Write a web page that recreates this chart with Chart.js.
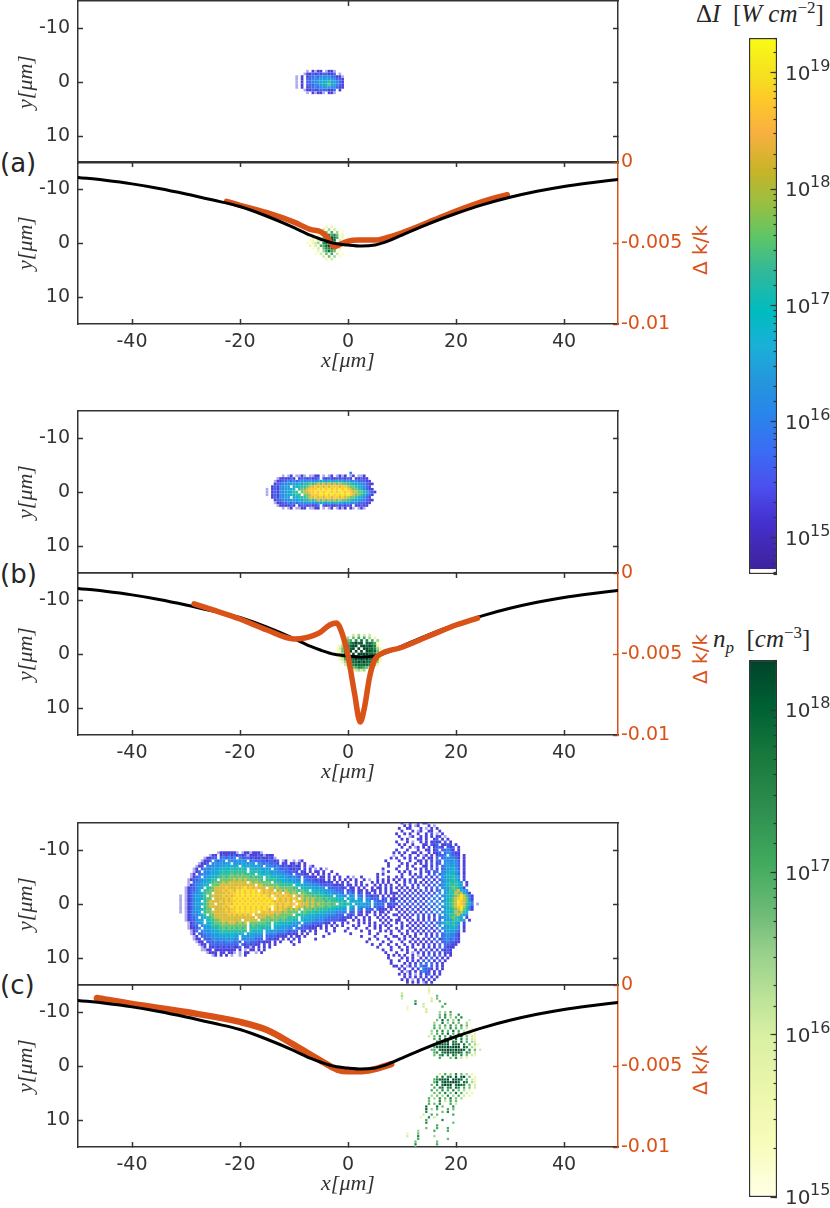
<!DOCTYPE html>
<html>
<head>
<meta charset="utf-8">
<script src="https://cdn.jsdelivr.net/npm/chart.js@4/dist/chart.umd.min.js"></script>
<style>
  body { margin: 0; background: #fff; }
  #page { position: relative; width: 830px; height: 1208px; overflow: hidden; }
  canvas { position: absolute; }
  .txt { position: absolute; white-space: nowrap; color: #262626; }
  .letter { left: 0; font: 26px "DejaVu Sans"; line-height: 30px; }
  .dk { color: #d95319; font: 20px "DejaVu Sans"; transform: translate(-50%, -50%) rotate(-90deg); left: 700px; }
  .cbt { font: 25px "Liberation Serif"; }
  .cbt i { font-style: italic; }
  .cbt sup { font-size: 17px; line-height: 0; }
  .cbt sub { font-size: 17px; line-height: 0; }
</style>
</head>
<body>
<div id="page">
  <div class="txt letter" style="top:148px">(a)</div>
  <div class="txt letter" style="top:559px">(b)</div>
  <div class="txt letter" style="top:970px">(c)</div>
  <div class="txt dk" style="top:250px">Δ k/k</div>
  <div class="txt dk" style="top:659px">Δ k/k</div>
  <div class="txt dk" style="top:1070px">Δ k/k</div>
  <div class="txt cbt" style="left:696px;top:0px">Δ<i>I</i>&nbsp; [<i>W cm</i><sup>−2</sup>]</div>
  <div class="txt cbt" style="left:713px;top:625px"><i>n<sub>p</sub></i>&nbsp; [<i>cm</i><sup>−3</sup>]</div>
</div>
<script>
const xTicks = [-40, -20, 0, 20, 40];
const yTicks = [-10, 0, 10];
const kTicks = [0, -0.005, -0.01];

// black curve, same in the three panels
const curveX = [-50, -45, -40, -35, -30, -25, -20, -15, -10, -7, -5, -2.5, 0, 2.5, 5, 7.5, 10, 15, 20, 25, 30, 35, 40, 45, 50];
const curveK = [-0.00095, -0.00113, -0.00135, -0.00163, -0.00197, -0.00235, -0.00275, -0.00335, -0.00405, -0.00452, -0.00477, -0.00502, -0.00513, -0.00519, -0.00512, -0.00487, -0.00451, -0.0038, -0.00318, -0.00263, -0.00218, -0.00181, -0.00151, -0.00128, -0.00108];

const orangeAX = [-22.5, -20, -15, -10, -7, -5, -4, -2.5, -1.5, 0, 2, 5, 7.5, 10, 15, 20, 25, 28, 29.5];
const orangeAK = [-0.00243, -0.00268, -0.00313, -0.00371, -0.00416, -0.00431, -0.00458, -0.00524, -0.00509, -0.00489, -0.00482, -0.00482, -0.00464, -0.00437, -0.00371, -0.00303, -0.00243, -0.00214, -0.00202];

const orangeBX = [-28.5, -25, -20, -15, -10, -8, -5.3, -3.4, -2.1, -1.4, -0.1, 1.2, 2.26, 3.07, 4, 4.93, 6.4, 9.6, 15, 20, 24];
const orangeBK = [-0.00191, -0.00228, -0.00284, -0.00352, -0.00407, -0.00401, -0.0037, -0.00321, -0.00309, -0.00345, -0.00494, -0.00741, -0.0092, -0.00827, -0.00642, -0.00537, -0.00494, -0.00463, -0.00389, -0.00321, -0.00278];

const orangeCX = [-46.5, -40, -30, -20, -15, -10, -5, -2, 0, 3, 5, 8];
const orangeCK = [-0.0008, -0.00117, -0.00167, -0.00228, -0.00278, -0.0037, -0.00468, -0.00522, -0.00533, -0.00531, -0.00519, -0.00488];

// levels, one char per 0.5um cell, '.' is an empty cell, 'a' the top level
const heatAX0 = -9.5, heatAY0 = -2;
const heatARows = [
  "....0.1011.0110...",
  "...011212122112.0.",
  "0.1.12232333322110",
  "0.1.22333444443221",
  "0.1.22334455644321",
  "0.1.22233445744321",
  "0.1.12232334433211",
  "...011212222112.1.",
  "....0.10110.110..."
];

const heatBX0 = -15, heatBY0 = -3.5;
const heatBRows = [
  "...............................3.........",
  "......0.01.0010.0011.0.01.0101.01.001....",
  "....0111121.12212112.21211212121.11211...",
  "...011223232333343344535445443433322211..",
  "...1223334445465767878787878776654433211.",
  "..1213344.45566788989898999899877654321..",
  "0.121334455.6778999a9a9a9a9a9a9877653211",
  "0.1213344566.78899a9a9aa9a9aa9a9887765321",
  "0.12133445566.778999a9a9a9a9a9a987765321.",
  "..1213344.45566788989899899898877654321..",
  "...1223334445465767878787878776654433211.",
  "...011223232333343344535445443433322211..",
  "....0111121.12212112.21211212121.11211...",
  "......0.01.0011.0011.0.01.0101.10.010...."
];

const heatCX0 = -31, heatCY0 = -15;
const heatCRows = [
  "E E E E ..1.01..1.11........",
  "E E E E ...1.1.01...1.0.....",
  "E E E E .1..11...1.0.1.1....",
  "E E E E ..1...1.01..11..1...",
  "E E E E 1..1.1..1..1.2.0.1..",
  "E E E E .1...01..1.1.1.11.0.",
  "E E E E ..1.1...11.1..12.1.1",
  "E E E E 1...1.0..1.1.1211.2. 1",
  "E E E E .1.1..1...11.212.112 1.1",
  "E E E E ..1..1.01.1.1.1221.2 12.1",
  "E E E E 1...1...1..11.12.223 21.1",
  "..............011111 10.01101110......... E ...................1 .1.1..11.1..1.112.23 3211",
  "...........011.12121 212120111210111..... E ...................0 ..1..1..1.01.1.1223. 3221.1",
  ".........01122.23232 3.32221211211210.... E ..................1. 1..1.1.1..1.11.2.233 3321.1",
  "........0112.3233.33 34343.23222212212.01 ..0.01.............. ................1... .1...1..11.1.1.22.33 3432.1",
  ".......0112.3434344. 34344343.33232221.11 .1101.1............. .................1.. ..1.1..1.1.1.2.12.34 3432.1",
  "......011.3334344545 45.54544443.33323212 11211.1.01.......... .................1.. .1..1.1...11.1.2.234 4432.1",
  ".....01.233344455556 56565.55454444.33222 21121.1.1.0.1.0..... ...............1.... 1...1..1.1.1.2.1.234 4542.1",
  ".....012.33444556566 66666.65655454443332 2221.11.1.11.1..1... ...............0.1.. .1.1.1...1.21.22.334 5543.1",
  "....01.2333445566667 67676666.65555444433 32.22211.1.1.1.1..1. .............1.1.... ..1..1.1.1..1.2.2345 5532.1",
  "....0123.34455667677 77777767666.66555444 33332.22111.11.1.1.1 ..1.0..1.....1...1.. 1.1...1.21.1.1.2.345 5654.1",
  "...01223344566.77777 87878777776.66665554 44433.32221211.1.1.1 .1.1.1..1.0..1.1.1.1 .1.1.1.1..1.2.1.2344 5653.1",
  "...0.233445667778788 88888.87877777.66655 55444.33322211211.1. 1.1..1.1...1.1.1.1.. 1..1.2.1.1.1.2.2.345 65654.1",
  "...01233455.77788888 88888888.88777777666 66.55544433322222111 1.11.1.1.1..1.1.1.1. .1.1..1.1.2.1.2.2345 66654.1",
  "..0122344.6678888988 8989a8989888.8878777 7766.555544443.22222 12.11.1.1..1.11.1.1. 1.1.1.1.2..1.2.2.344 676541",
  "..012234.66778889899 8a9a9a9a9.98988.7878 77776766.55544433322 2.121.11.1.11.1.1.1. .1.2.1.1.1.2.1.23.44 6678543",
  "..0123345677.8888989 9a9a9a9a9a98989898.8 8787.776665655444333 2.232.12.11.1.1.1.11 1.1.1.2.1.2.1.2.3.35 66878531",
  "0.01234456.788889898 9a9a9a9a9a9a98.98989 88.87877767666555.44 43.34.32.22121.1.1.1 .2.1.1.2.1.2.2.3.345 5678a8631",
  "0.0123445677.8888989 a9a9a9a9a9a9a9a.9898 9898.878787776766655 5.454.43.33222.12.11 1.1.2.1.2.1.2.3.2.45 6789a8731",
  "0.012344.67888898989 9a9a9a9a9a9a9a989898 98.98878787777676665 65.54544.43.32222.21 .2.1.2.1.2.2.3.3.345 678a98742",
  "0.01234456788.888998 a9a9a9a9a9a9a9a98989 989.98887878777767.6 6565.545434.3232.122 1.2.1.2.2.1.3.2.3.55 678a98653.0",
  "0.012344.6788888989a 9a9a9a9a9a9a9a.98989 88.98878787777676665 55.54.43433.2222.111 .1.2.1.2.1.2.2.3.345 6789a8631",
  "0.0123445677.8888989 9a9a9a9a9a9a98.98988 78787.77767666655544 44.43.32.222.2111.1. 1.1.1.2.1.2.1.3.2.45 5678a7531",
  "0.012334.67788888989 9a9a9a9a9.9898988878 7777.676665655544433 33.22.21.11.1.11.1.. .1.1.2.1.1.2.2.3.345 5687865",
  "..01233456.778888898 9898989.888888878777 77.66665555444433322 2.212.11.1..1.1.1..1 1.1.1.1.2.1.2.1.3.35 6678643",
  "..01223.456678888888 88888888.88877877777 6666.555444433322222 1211.1..1.1..1.1.1.. .1.1.1..2.1.1.2.2344 67654.1",
  "..0122344.5667788888 888.88888.77777776766 655.5444433332222211 1..1.1.1.1...1.1.1.1 1..1.1.1.1.2.1.2.344 66654.1",
  "...012334.5567778788 87878.77777766.66555 54444.3332222211.1. .1.1...1.1.1.1..1.1. .1.1..1.1.1.2.1.2345 65643.1",
  "...0122.344566677777 77777.67666666.55544 4433.32221211.1.1.1. 1...1.1...1.1.1.1.1. ..1.1.1.1.1.2.2.3.44 5653.1",
  "...01123.34455667676 76767.66665655.54444 33.32222111.1.1..1.. ..1..1...1..1.1..1.. 1.1..1.1.2.1.1.2.344 5543.1",
  "....012.333445566666 66666.65555.44443333 2222.11.1.1...1..1.. .1.....1..1...1.1.1. .1..1.1.1.1.2.1.2.34 4432.1",
  "....01.2233344455555 5555.454444.33332222 1211.1.1..1....1.... ...1......1..1....1. ..1.1..1.1.1.1.2.234 3321",
  ".....01.223334444545 44.44344333.22221211 .1.11.1......1...... .......1....1...1..1 1..1.1.1...2.1.2.233 3321",
  ".....011.22233333434 33.33333222.21211.1. 1.1.1.....1......... ..........1..1...1.. .1.1..1.1.1.1.2.1233 2321",
  "......011.2223232333 232.2322212111.1.1.. .1..1............... .........1.....1..1. ..1..1.1.1.1.1.2.223 2211",
  ".......011.222222222 22.2121211.1.1.1.... ..1................. ...........1..1..1.. 1..1..1.1.1.2.1.2.22 211",
  "........01.112121212 112.1101.1.1.1...... E .............1....1. .1..1.1...1.1.1.2.21 11",
  "........0011.1111111 1.1.0.11.1.1........ E ...............1..1. ..1.1..1.1.2.1.1.212 1",
  "..........0111.11.11 0.0.11..0.1......... E ................1... 1...1.0.1.1.1.2.1.12 1",
  "............01.1.1.0 ..0.1............... E .................1.1 .1.1..1.0.1.2.1.2.1. 1",
  "E E E .................1.. ..1.1.1..1.1.2.1.1.1",
  "E E E ..................1. .1..1.1.1.2.2.1.2.1.",
  "E E E ..................1. ...1.1.1.2.2.2.1.1..",
  "E E E ...................1 1.1.01.2.322.2.1.1..",
  "E E E E .1.1..1.1.3221.1.1..",
  "E E E E ..1.01.1.2321.1.1...",
  "E E E E .1.1.1.0.1.12.1.1...",
  "E E E E ...1.1.1.1.1.1.1....",
  "E E E E ..1.1.0.1.1.1.1.....",
  "E E E E ....1.1.1.01.1......"
];

const plasmaAX0 = -7.5, plasmaAY0 = -3;
const plasmaARows = [
  ".......2.2...",
  "....2.3.4.3.1",
  "...1.2.5.6.4.1",
  "..1.23.57675.2",
  "..2.3.668986.2",
  ".12.34.7898.31",
  "1.234.78897.21",
  ".2.3.668987.21",
  "..1.3.57786.2",
  "....2.46865.1",
  "...1.3.5.6.3.1",
  "......3.5.4.1",
  ".......2.3..."
];

const plasmaBX0 = -2, plasmaBY0 = -3.5;
const plasmaBRows = [
  "......3.4.3.3....",
  "....4.5.6.6.4.2..",
  "..2456.7.8.7.6.41",
  "..35678989.88761.",
  ".2468899.9989872.",
  "1358889.9.9988742",
  "125889.9.9.998851",
  "13588.9.999988742",
  ".24688999.9897611",
  ".2367889898988752",
  "..245788989887641",
  "...3567888887642.",
  "....3456776543...",
  "......23434.2...."
];

const plasmaCX0 = 9.5, plasmaCY0 = -14.5;
const plasmaCRows = [
  "...........2.................",
  "...........3.................",
  ".3.........2.................",
  ".4............5..............",
  ".3..........3.5..............",
  "......6.....3..5.............",
  "......7..3.......6...........",
  "...2.....3......6............",
  "...2......3..................",
  "..........3....4.4.6.........",
  "...............5.7.5..7......",
  "...............6.7.4.6.7.....",
  "..............5.8.6.4.7...3..",
  ".............4..8.4.6.5..4...",
  ".............6.5.6.7.5.7.5...",
  ".............6.5.4.7.6.5.3.2.",
  "............4.6.7.5.8.6.3.2..",
  "............4.6.7.8.6.7.5.3.2",
  "...........3.5.7.6.8.7.8.5.32",
  ".............6.7.8.7.8.7.5.32",
  "..............78.89.87.8.6.43",
  ".............678989.989.8.6.42",
  "...........4.6889898999.87.42",
  "............56.8989989898.7.5.3",
  ".............67.88989898.76.3",
  ".............5.68.7.86.7.5.32",
  "...............6...5.7.3.2...",
  "",
  "",
  "",
  "",
  "",
  "...............3.6.4.7.5.4.2.",
  "..............6.8.78.9.89.5.2",
  ".............678989.9898.6.32",
  ".............68.8989998.87.42",
  "............5.7.8989.8987.5.3",
  ".............6.78.78.87.6.5.3",
  "............6.5.7.6.7.5.4.2..",
  ".............5.6.7.5.8.6.3.2..",
  "............4.5.4.7.4.6.3.2..",
  "...........6.4.7.5.8.5.4.....",
  "...........5...7.3.6.5.......",
  "...........6.5.7...6.3.......",
  "..........8...8.5...7........",
  "..........8.4.6...6.5........",
  "..........7.....5.7..........",
  ".........3..6.5.....6........",
  "........2..7.3...............",
  "..........6.....7............",
  "..........7.........5........",
  "..............6..............",
  "..........5...6...6..........",
  ".......4.....6....6..........",
  "...2...5.....................",
  "...3...7.....4...............",
  ".......6..........5..........",
  "......5.......5..............",
  "......7.......6..............",
  "......6......................"
];

// colours of the levels above
const heatColors = ["#aeaaec", "#4b3fdc", "#3f62ea", "#2a88e8", "#1ca0dc", "#14b4c8", "#30bf9c", "#6cc46c", "#d8bc38", "#fcc832", "#f8e820"];
const plasmaColors = ["#ffffff", "#fdfdc8", "#eef7ac", "#cfeb9c", "#9fd58c", "#6cbb76", "#41ab5d", "#238443", "#0a6a38", "#00482a"];

// colorbars: position along the bar from the top and colour
const heatBarPos = [0, 0.07, 0.115, 0.175, 0.247, 0.313, 0.372, 0.437, 0.51, 0.575, 0.64, 0.706, 0.771, 0.837, 0.902, 0.99, 0.991, 1];
const heatBarCol = ["#f9fb15", "#f5e020", "#fdc928", "#f9b040", "#c8b428", "#95c043", "#5dc668", "#30b89a", "#00bcc0", "#1ab0d8", "#2496dc", "#2a84ec", "#3b6cf4", "#4a50ee", "#4530d0", "#3e229c", "#ffffff", "#ffffff"];
const plasmaBarPos = [0, 0.092, 0.185, 0.28, 0.38, 0.475, 0.54, 0.635, 0.7, 0.83, 0.895, 1];
const plasmaBarCol = ["#00432a", "#006234", "#1a7a3e", "#2f8f50", "#41ab5d", "#6fbb78", "#95cf8a", "#bee49a", "#d9f0a3", "#f0f8b0", "#f7fcb9", "#ffffe5"];

const DARK = "#333333";
const ORANGE = "#d95319";
const TICK_FONT = { family: "DejaVu Sans", size: 19 };

const zip = (xs, ys) => xs.map((x, i) => ({ x, y: ys[i] }));

// Turns the level rows into cells for a scatter dataset
const cellsFrom = (rows, x0, y0, colors, radius) => {
  const pts = [];
  const cols = [];
  rows.forEach((row, r) => {
    const line = row.replace(/E/g, "....................").replace(/ /g, "");
    [...line].forEach((c, i) => {
      if (c === ".") return;
      pts.push({ x: x0 + i * 0.5, y: y0 + r * 0.5 });
      cols.push(colors[c === "a" ? 10 : Number(c)]);
    });
  });
  return {
    data: pts,
    pointStyle: "rect",
    pointRadius: radius,
    pointHoverRadius: radius,
    pointBorderWidth: 0,
    pointBackgroundColor: cols,
    backgroundColor: cols,
    showLine: false,
    xAxisID: "x",
    yAxisID: "y",
  };
};

const lineSet = (xs, ks, color, width) => ({
  data: zip(xs, ks),
  showLine: true,
  borderColor: color,
  borderWidth: width,
  borderCapStyle: "round",
  pointRadius: 0,
  cubicInterpolationMode: "monotone",
  xAxisID: "x",
  yAxisID: "yRight",
});

const fixedTicks = (values) => (scale) => {
  scale.ticks = values.map((value) => ({ value }));
};

// Keeps the frame where it belongs: no extra room for labels that stick out
const fixSize = (width, height) => (s) => {
  if (width !== null) s.width = width;
  if (height !== null) s.height = height;
  s.paddingTop = s.paddingBottom = s.paddingLeft = s.paddingRight = 0;
};

const axisStyle = (color, tickLen) => ({
  border: { color, width: 1.5 },
  grid: { drawOnChartArea: false, drawTicks: true, tickLength: tickLen, tickColor: color, tickWidth: 1.5 },
});

// One panel: top is the top edge of the plot frame, lower means it has the k/k axis and x labels
const addPanel = (top, lower, datasets) => {
  const canvas = document.createElement("canvas");
  const padTop = 14;
  const below = lower ? 54 : 14;
  canvas.style.left = "0px";
  canvas.style.top = top - padTop + "px";
  canvas.style.width = "700px";
  canvas.style.height = 162 + padTop + below + "px";
  canvas.width = 700;
  canvas.height = 162 + padTop + below;
  document.getElementById("page").appendChild(canvas);

  const rightColor = lower ? ORANGE : DARK;
  return new Chart(canvas.getContext("2d"), {
    type: "scatter",
    data: { datasets },
    options: {
      responsive: false,
      animation: false,
      layout: { padding: { top: padTop, bottom: lower ? 0 : below } },
      plugins: { legend: { display: false }, tooltip: { enabled: false } },
      scales: {
        x: {
          type: "linear",
          position: "bottom",
          min: -50,
          max: 50,
          ...axisStyle(DARK, -5),
          afterBuildTicks: fixedTicks(lower ? xTicks : [0]),
          afterFit: fixSize(null, lower ? below : 0),
          ticks: { display: lower, color: DARK, font: TICK_FONT, padding: 12, maxRotation: 0, autoSkip: false },
          title: {
            display: lower,
            text: "x[μm]",
            color: DARK,
            font: { family: "Liberation Serif", size: 22, style: "italic" },
            padding: { top: 27 },
          },
        },
        xTop: {
          type: "linear",
          position: "top",
          min: -50,
          max: 50,
          ...axisStyle(DARK, -5),
          afterBuildTicks: fixedTicks(lower ? xTicks : [0]),
          afterFit: fixSize(null, 0),
          ticks: { display: false },
        },
        y: {
          type: "linear",
          position: "left",
          reverse: true,
          min: -15,
          max: 15,
          ...axisStyle(DARK, -5),
          afterBuildTicks: fixedTicks(yTicks),
          afterFit: fixSize(78, null),
          ticks: { color: DARK, font: TICK_FONT, padding: 13 },
          title: {
            display: true,
            text: "y[μm]",
            color: DARK,
            font: { family: "Liberation Serif", size: 22, style: "italic" },
            padding: { top: 13 },
          },
        },
        yRight: {
          type: "linear",
          position: "right",
          reverse: !lower,
          min: lower ? -0.01 : -15,
          max: lower ? 0 : 15,
          ...axisStyle(rightColor, -5),
          afterBuildTicks: fixedTicks(lower ? kTicks : yTicks),
          afterFit: fixSize(82, null),
          ticks: {
            display: lower,
            color: ORANGE,
            font: TICK_FONT,
            padding: 8,
            callback: (v) => String(v),
          },
        },
      },
    },
  });
};

const barGradient = (pos, cols) => (ctx) => {
  const area = ctx.chart.chartArea;
  if (!area) return cols[0];
  const g = ctx.chart.ctx.createLinearGradient(0, area.top, 0, area.bottom);
  pos.forEach((p, i) => g.addColorStop(p, cols[i]));
  return g;
};

// Colorbar labels are 10 with a raised exponent, canvas ticks can't do that
const powerLabels = {
  id: "powerLabels",
  afterDraw(chart) {
    const { ctx, scales } = chart;
    const s = scales.yMajor;
    ctx.save();
    ctx.fillStyle = DARK;
    ctx.textBaseline = "middle";
    s.ticks.forEach((t) => {
      const y = s.getPixelForValue(t.value);
      const left = chart.chartArea.right + 8;
      ctx.font = '20px "DejaVu Sans"';
      ctx.fillText("10", left, y + 2);
      ctx.font = '16px "DejaVu Sans"';
      ctx.fillText(String(Math.round(Math.log10(t.value))), left + 25, y - 6);
    });
    ctx.restore();
  },
};

const addColorbar = (top, height, minV, maxV, majors, pos, cols) => {
  const canvas = document.createElement("canvas");
  const padV = 14;
  canvas.style.left = "735px";
  canvas.style.top = top - padV + "px";
  canvas.style.width = "95px";
  canvas.style.height = height + 2 * padV + "px";
  canvas.width = 95;
  canvas.height = height + 2 * padV;
  document.getElementById("page").appendChild(canvas);

  new Chart(canvas.getContext("2d"), {
    type: "bar",
    data: {
      labels: [""],
      datasets: [{
        data: [[minV, maxV]],
        backgroundColor: barGradient(pos, cols),
        borderColor: DARK,
        borderWidth: 1.5,
        borderSkipped: false,
        barPercentage: 1,
        categoryPercentage: 1,
        yAxisID: "yMajor",
      }],
    },
    plugins: [powerLabels],
    options: {
      responsive: false,
      animation: false,
      layout: { padding: { left: 14, top: padV, bottom: padV } },
      plugins: { legend: { display: false }, tooltip: { enabled: false } },
      scales: {
        x: { display: false },
        yMinor: {
          type: "logarithmic",
          position: "right",
          weight: 0,
          min: minV,
          max: maxV,
          border: { display: false },
          grid: { z: 1, drawOnChartArea: false, drawTicks: true, tickLength: -3.5, tickColor: DARK, tickWidth: 1.2 },
          afterFit: fixSize(0, null),
          ticks: { display: true, autoSkip: false, color: "rgba(0,0,0,0)", callback: () => "" },
        },
        yMajor: {
          type: "logarithmic",
          position: "right",
          weight: 1,
          min: minV,
          max: maxV,
          border: { display: false },
          grid: { z: 1, drawOnChartArea: false, drawTicks: true, tickLength: -6.5, tickColor: DARK, tickWidth: 1.2 },
          afterBuildTicks: fixedTicks(majors),
          afterFit: fixSize(53, null),
          ticks: { display: false },
        },
      },
    },
  });
};

addPanel(1, false, [cellsFrom(heatARows, heatAX0, heatAY0, heatColors, 1.9)]);
addPanel(162, true, [
  lineSet(curveX, curveK, "#000000", 3),
  lineSet(orangeAX, orangeAK, ORANGE, 5.5),
  cellsFrom(plasmaARows, plasmaAX0, plasmaAY0, plasmaColors, 1.8),
]);

addPanel(411, false, [cellsFrom(heatBRows, heatBX0, heatBY0, heatColors, 1.9)]);
addPanel(573, true, [
  lineSet(orangeBX, orangeBK, ORANGE, 5.5),
  lineSet(curveX, curveK, "#000000", 3),
  cellsFrom(plasmaBRows, plasmaBX0, plasmaBY0, plasmaColors, 1.9),
]);

addPanel(823, false, [cellsFrom(heatCRows, heatCX0, heatCY0, heatColors, 2)]);
addPanel(985, true, [
  lineSet(curveX, curveK, "#000000", 3),
  lineSet(orangeCX, orangeCK, ORANGE, 6.5),
  cellsFrom(plasmaCRows, plasmaCX0, plasmaCY0, plasmaColors, 1.6),
]);

addColorbar(38, 536, 4.9e14, 2e19, [1e15, 1e16, 1e17, 1e18, 1e19], heatBarPos, heatBarCol);
addColorbar(660, 537, 1e15, 2.04e18, [1e15, 1e16, 1e17, 1e18], plasmaBarPos, plasmaBarCol);
</script>
</body>
</html>
